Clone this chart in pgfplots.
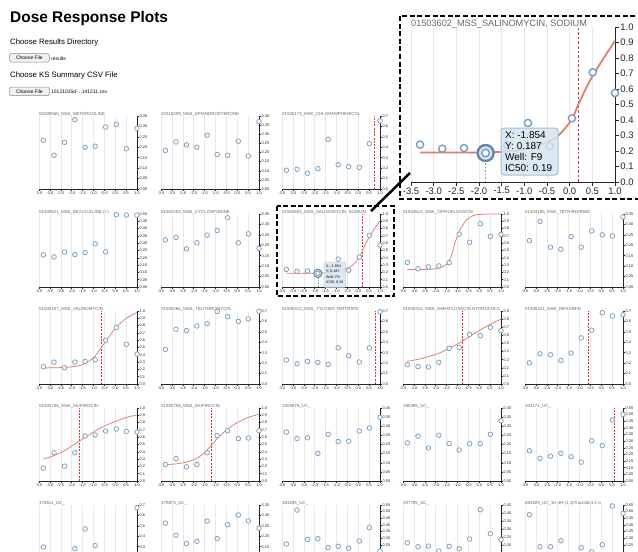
\documentclass[border=0pt]{standalone}
\usepackage{fontspec}
\setmainfont{Liberation Sans}
\usepackage{pgfplots}
\pgfplotsset{compat=1.18}
\definecolor{mk}{RGB}{118,158,196}
\definecolor{cv}{RGB}{229,124,108}
\definecolor{ic}{RGB}{235,45,45}
\definecolor{gr}{RGB}{232,232,232}
\definecolor{ttl}{RGB}{105,105,105}
\definecolor{tipf}{RGB}{214,228,240}
\definecolor{tipd}{RGB}{165,192,215}
\pgfplotsset{
 sax/.style={
  scale only axis, width=98bp, height=73bp, anchor=south west,
  xmin=-3.5, xmax=1.0, ymin=0,
  axis x line*=bottom, axis y line*=right,
  xtick={-3.5,-3,-2.5,-2,-1.5,-1,-0.5,0,0.5,1},
  xmajorgrids, major grid style={draw=gr, line width=0.5bp},
  tick align=outside, major tick length=1.8bp,
  axis line style={draw=black!85, line width=0.6bp},
  tick style={draw=black!85, line width=0.5bp},
  tick label style={font=\fontsize{3.9}{4}\selectfont, text=black!85, inner sep=0.6bp},
  /pgf/number format/assume math mode=true,
  xticklabel style={/pgf/number format/.cd, fixed, fixed zerofill, precision=1},
  yticklabel style={/pgf/number format/.cd, fixed, fixed zerofill, precision=2},
  clip=false,
 },
 pts/.style={only marks, mark=*, mark size=2.3bp, mark options={draw=mk, fill=white, line width=0.75bp}},
 crv/.style={color=cv, line width=0.75bp, smooth, no marks},
 icl/.style={draw=ic, line width=0.9bp, dash pattern=on 2bp off 1.3bp, no marks},
}
\newcommand{\SP}[8][]{%
 \begin{axis}[sax, at={(#2bp,-#3bp)}, ymax=#5, ytick distance=#6, yticklabel style={/pgf/number format/precision=#7}, #1]
 \node[anchor=base west, inner sep=0pt, yshift=0.5bp, font=\fontsize{4.4}{5}\selectfont, text=ttl] at (rel axis cs:0,1) {#4};
 #8
 \end{axis}}
\begin{document}
\begin{tikzpicture}
\useasboundingbox (0,0) rectangle (638bp,-552bp);
\clip (0,0) rectangle (638bp,-552bp);
\fill[white] (0,0) rectangle (638bp,-552bp);
% header
\node[anchor=base west, inner sep=0pt, font=\fontsize{15.5}{16}\selectfont\bfseries] at (10bp,-22.3bp) {Dose Response Plots};
\node[anchor=base west, inner sep=0pt, font=\fontsize{7.8}{8}\selectfont] at (10bp,-44bp) {Choose Results Directory};
\draw[rounded corners=1.5bp, draw=black!45, fill=black!6, line width=0.5bp] (9.5bp,-53.5bp) rectangle (49.3bp,-62bp);
\node[inner sep=0pt, font=\fontsize{5}{5}\selectfont] at (29.4bp,-57.9bp) {Choose File};
\node[anchor=base west, inner sep=0pt, font=\fontsize{5}{5}\selectfont] at (51bp,-60bp) {results};
\node[anchor=base west, inner sep=0pt, font=\fontsize{7.8}{8}\selectfont] at (10bp,-77bp) {Choose KS Summary CSV File};
\draw[rounded corners=1.5bp, draw=black!45, fill=black!6, line width=0.5bp] (9.5bp,-87bp) rectangle (49.3bp,-95.7bp);
\node[inner sep=0pt, font=\fontsize{5}{5}\selectfont] at (29.4bp,-91.5bp) {Choose File};
\node[anchor=base west, inner sep=0pt, font=\fontsize{5}{5}\selectfont] at (51bp,-93.5bp) {10121015d-...141211.csv};
% row 1
\SP{39}{189}{00300565\_MSS\_METERGOLINE}{0.3501}{0.05}{2}{
 \addplot[pts] coordinates {(-3.3,0.234) (-2.81,0.162) (-2.33,0.224) (-1.854,0.333) (-1.38,0.200) (-0.92,0.205) (-0.44,0.297) (0.05,0.310) (0.51,0.193) (1.0,0.291)};}
\SP{161}{189}{00310009\_MSS\_EPIANDROSTERONE}{0.4001}{0.05}{2}{
 \addplot[pts] coordinates {(-3.3,0.211) (-2.81,0.258) (-2.33,0.242) (-1.854,0.229) (-1.38,0.295) (-0.92,0.189) (-0.44,0.185) (0.05,0.262) (0.51,0.180) (1.0,0.369)};}
\SP{282}{189}{01500174\_MSK\_CHLORAMPHENICOL}{0.7001}{0.1}{1}{
 \addplot[icl] coordinates {(0.74,0) (0.74,0.7)};
 \addplot[pts] coordinates {(-3.3,0.180) (-2.81,0.189) (-2.33,0.151) (-1.854,0.195) (-1.38,0.476) (-0.92,0.233) (-0.44,0.214) (0.05,0.208) (0.51,0.435) (1.0,0.653)};}
% row 2
\SP{39}{287}{01500621\_MSS\_BICUCULLINE (+)}{0.5001}{0.05}{2}{
 \addplot[pts] coordinates {(-3.3,0.220) (-2.81,0.206) (-2.33,0.239) (-1.854,0.222) (-1.38,0.236) (-0.92,0.296) (-0.44,0.241) (0.05,0.495) (0.51,0.493) (1.0,0.493)};}
\SP{161}{287}{01502202\_MSK\_CYCLOSPORINE}{0.3501}{0.05}{2}{
 \addplot[pts] coordinates {(-3.3,0.226) (-2.81,0.238) (-2.33,0.183) (-1.854,0.212) (-1.38,0.249) (-0.92,0.271) (-0.44,0.332) (0.05,0.212) (0.51,0.255) (1.0,0.185)};}
\SP{282}{287}{01503602\_MSS\_SALINOMYCIN, SODIUM}{1.0001}{0.1}{1}{
 \addplot[icl] coordinates {(0.19,0) (0.19,1.0)};
 \addplot[crv] coordinates {(-3.3,0.19) (-2.5,0.19) (-2.0,0.19) (-1.5,0.195) (-1.0,0.212) (-0.5,0.258) (-0.25,0.30) (0.04,0.40) (0.19,0.50) (0.44,0.65) (0.74,0.795) (1.0,0.91)};
 \addplot[pts] coordinates {(-3.3,0.241) (-2.81,0.215) (-2.33,0.219) (-1.38,0.24) (-0.92,0.381) (-0.44,0.23) (0.05,0.411) (0.51,0.708) (1.0,0.574)};
 \addplot[mk, line width=0.6bp, dash pattern=on 0.7bp off 0.9bp] coordinates {(-1.854,0) (-1.854,0.13)};
 \addplot[only marks, mark=*, mark size=4.1bp, mark options={draw=mk!85!black, fill=mk!25, line width=1.1bp}] coordinates {(-1.854,0.187)};
 \addplot[only marks, mark=*, mark size=2.1bp, mark options={draw=mk, fill=white, line width=0.7bp}] coordinates {(-1.854,0.187)};}
\SP{403}{287}{01503614\_MSK\_CIPROFLOXACIN}{1.0001}{0.1}{1}{
 \addplot[crv] coordinates {(-3.3,0.24) (-2.5,0.24) (-2.0,0.25) (-1.75,0.27) (-1.5,0.31) (-1.35,0.38) (-1.25,0.46) (-1.12,0.60) (-1.0,0.70) (-0.89,0.78) (-0.75,0.85) (-0.59,0.92) (-0.4,0.96) (-0.14,0.99) (0.5,1.0) (1.0,1.0)};
 \addplot[pts] coordinates {(-3.3,0.338) (-2.81,0.249) (-2.33,0.276) (-1.854,0.289) (-1.38,0.333) (-0.92,0.724) (-0.44,0.613) (0.05,0.867) (0.51,0.693) (1.0,0.72)};}
\SP{525}{287}{01504185\_MSK\_TETRANDRINE}{0.3501}{0.05}{2}{
 \addplot[pts] coordinates {(-3.3,0.222) (-2.81,0.314) (-2.33,0.191) (-1.854,0.181) (-1.38,0.242) (-0.92,0.191) (-0.44,0.269) (0.05,0.25) (0.51,0.245) (1.0,0.336)};}
% row 3
\SP{39}{384}{01505107\_MSS\_VALINOMYCIN}{1.0001}{0.1}{1}{
 \addplot[icl] coordinates {(-0.64,0) (-0.64,1.0)};
 \addplot[crv] coordinates {(-3.3,0.22) (-2.5,0.225) (-2.0,0.235) (-1.5,0.265) (-1.0,0.36) (-0.64,0.50) (-0.25,0.66) (0.0,0.76) (0.5,0.90) (1.0,0.98)};
 \addplot[pts] coordinates {(-3.3,0.236) (-2.81,0.30) (-2.33,0.223) (-1.854,0.30) (-1.38,0.309) (-0.92,0.332) (-0.44,0.60) (0.05,0.773) (0.51,0.545) (1.0,0.409)};}
\SP{161}{384}{01505265\_MSS\_TELITHROMYCIN}{0.7001}{0.1}{1}{
 \addplot[pts] coordinates {(-3.3,0.331) (-2.81,0.525) (-2.33,0.512) (-1.854,0.557) (-1.38,0.58) (-0.92,0.697) (-0.44,0.645) (0.05,0.60) (0.51,0.625) (1.0,0.697)};}
\SP{282}{384}{01505312\_MSS\_TYLOSIN TARTRATE}{0.7001}{0.1}{1}{
 \addplot[icl] coordinates {(0.78,0) (0.78,0.7)};
 \addplot[pts] coordinates {(-3.3,0.230) (-2.81,0.194) (-2.33,0.217) (-1.854,0.207) (-1.38,0.188) (-0.92,0.347) (-0.44,0.271) (0.05,0.211) (0.51,0.347) (1.0,0.693)};}
\SP{403}{384}{01505314\_MSS\_SARAFLOXACIN HYDROCHLO}{0.9001}{0.1}{1}{
 \addplot[icl] coordinates {(-0.76,0) (-0.76,0.9)};
 \addplot[crv] coordinates {(-3.3,0.28) (-2.8,0.305) (-2.3,0.34) (-1.8,0.385) (-1.3,0.45) (-0.76,0.53) (-0.3,0.61) (0.2,0.69) (0.6,0.75) (1.0,0.80)};
 \addplot[pts] coordinates {(-3.3,0.238) (-2.81,0.214) (-2.33,0.21) (-1.854,0.267) (-1.38,0.44) (-0.92,0.452) (-0.44,0.612) (0.05,0.596) (0.51,0.699) (1.0,0.657)};}
\SP{525}{384}{01505321\_MSK\_RIFAXIMIN}{0.7001}{0.1}{1}{
 \addplot[icl] coordinates {(-0.59,0) (-0.59,0.7)};
 \addplot[pts] coordinates {(-3.3,0.203) (-2.81,0.290) (-2.33,0.281) (-1.854,0.226) (-1.38,0.297) (-0.92,0.442) (-0.44,0.516) (0.05,0.684) (0.51,0.652) (1.0,0.664)};}
% row 4
\SP{39}{481}{01505706\_MSK\_MUPIROCIN}{1.0001}{0.1}{1}{
 \addplot[icl] coordinates {(-1.66,0) (-1.66,1.0)};
 \addplot[crv] coordinates {(-3.3,0.30) (-2.8,0.35) (-2.3,0.42) (-1.66,0.545) (-1.3,0.61) (-0.9,0.69) (-0.45,0.76) (0.05,0.82) (0.5,0.87) (1.0,0.905)};
 \addplot[pts] coordinates {(-3.3,0.176) (-2.81,0.387) (-2.33,0.203) (-1.854,0.387) (-1.38,0.617) (-0.92,0.631) (-0.44,0.685) (0.05,0.712) (0.51,0.68) (1.0,0.671)};}
\SP{161}{481}{01505706\_MSS\_MUPIROCIN}{1.0001}{0.1}{1}{
 \addplot[icl] coordinates {(-1.19,0) (-1.19,1.0)};
 \addplot[crv] coordinates {(-3.3,0.225) (-2.8,0.235) (-2.3,0.26) (-1.8,0.32) (-1.5,0.39) (-1.19,0.49) (-0.8,0.62) (-0.4,0.72) (0.0,0.80) (0.5,0.87) (1.0,0.915)};
 \addplot[pts] coordinates {(-3.3,0.225) (-2.81,0.306) (-2.33,0.194) (-1.854,0.225) (-1.38,0.387) (-0.92,0.622) (-0.44,0.689) (0.05,0.581) (0.51,0.59) (1.0,0.689)};}
\SP{282}{481}{1005975\_UC\_}{0.4001}{0.05}{2}{
 \addplot[pts] coordinates {(-3.3,0.268) (-2.81,0.233) (-2.33,0.237) (-1.854,0.151) (-1.38,0.256) (-0.92,0.216) (-0.44,0.218) (0.05,0.274) (0.51,0.291) (1.0,0.349)};}
\SP{403}{481}{185495\_UC\_}{0.4001}{0.05}{2}{
 \addplot[pts] coordinates {(-3.3,0.209) (-2.81,0.246) (-2.33,0.181) (-1.854,0.251) (-1.38,0.205) (-0.92,0.170) (-0.44,0.204) (0.05,0.205) (0.51,0.256) (1.0,0.33)};}
\SP{525}{481}{202171\_UC\_}{0.5501}{0.05}{2}{
 \addplot[icl] coordinates {(0.59,0) (0.59,0.55)};
 \addplot[pts] coordinates {(-3.3,0.228) (-2.81,0.171) (-2.33,0.187) (-1.854,0.209) (-1.38,0.183) (-0.92,0.142) (-0.44,0.303) (0.05,0.267) (0.51,0.459) (1.0,0.502)};}
% row 5 (cut by the page edge)
\SP[xticklabels={}, ytick={0.3,0.4,0.5,0.6,0.7}]{39}{578}{378511\_UC\_}{0.7001}{0.1}{1}{
 \addplot[pts] coordinates {(-3.3,0.297) (-1.854,0.281) (-1.38,0.471) (-0.92,0.31) (1.0,0.674)};}
\SP[xticklabels={}, ytick={0.15,0.2,0.25,0.3,0.35}]{161}{578}{379873\_UC\_}{0.3501}{0.05}{2}{
 \addplot[pts] coordinates {(-3.3,0.263) (-2.81,0.205) (-2.33,0.165) (-1.854,0.176) (-1.38,0.273) (-0.92,0.189) (-0.44,0.256) (0.05,0.302) (0.51,0.274) (1.0,0.239)};}
\SP[xticklabels={}, ytick={0.25,0.3,0.35,0.4,0.45,0.5,0.55}]{282}{578}{383295\_UC\_}{0.5501}{0.05}{2}{
 \addplot[pts] coordinates {(-3.3,0.256) (-2.81,0.512) (-2.33,0.291) (-1.854,0.296) (-1.38,0.229) (-0.92,0.239) (-0.44,0.224) (0.05,0.279) (0.51,0.379) (1.0,0.203)};}
\SP[xticklabels={}, ytick={0.2,0.25,0.3,0.35,0.4,0.45}]{403}{578}{497795\_UC\_}{0.4501}{0.05}{2}{
 \addplot[pts] coordinates {(-3.3,0.217) (-2.81,0.193) (-2.33,0.197) (-1.854,0.166) (-1.38,0.195) (-0.92,0.18) (-0.44,0.24) (0.05,0.421) (0.51,0.273) (1.0,0.236)};}
\SP[xticklabels={}, ytick={0.25,0.3,0.35,0.4,0.45,0.5,0.55}]{525}{578}{694829\_UC\_1H,4H-(1,3)Triazolo(3,2-a}{0.5501}{0.05}{2}{
 \addplot[pts] coordinates {(-3.3,0.477) (-2.81,0.236) (-2.33,0.236) (-1.854,0.281) (-0.92,0.228) (-0.44,0.196) (0.05,0.251) (0.51,0.543) (1.0,0.487)};}
% small tooltip
\draw[rounded corners=1.2bp, fill=tipf, fill opacity=0.85, draw=tipd, line width=0.4bp] (324bp,-262bp) rectangle (345.5bp,-287.5bp);
\node[anchor=base west, inner sep=0pt, font=\fontsize{3.6}{4}\selectfont] at (326bp,-267bp) {X: -1.854};
\node[anchor=base west, inner sep=0pt, font=\fontsize{3.6}{4}\selectfont] at (326bp,-272.5bp) {Y: 0.187};
\node[anchor=base west, inner sep=0pt, font=\fontsize{3.6}{4}\selectfont] at (326bp,-278bp) {Well: F9};
\node[anchor=base west, inner sep=0pt, font=\fontsize{3.6}{4}\selectfont] at (326bp,-283.5bp) {IC50: 0.19};
% dashed highlight box
\draw[line width=1.6bp, dash pattern=on 5bp off 2.6bp] (277bp,-206bp) rectangle (394bp,-296bp);
% inset
\fill[white] (400bp,-16bp) rectangle (650bp,-199bp);
\begin{axis}[sax, at={(411bp,-182bp)}, width=204bp, height=155bp, ymax=1.0001, ytick distance=0.1,
  yticklabel style={/pgf/number format/precision=1},
  tick label style={font=\fontsize{9.5}{10}\selectfont, inner sep=1.2bp},
  major tick length=4bp, axis line style={line width=1bp}, tick style={line width=0.9bp},
  major grid style={draw=gr, line width=0.8bp}]
 \node[anchor=base west, inner sep=0pt, yshift=0.7bp, font=\fontsize{9.2}{10}\selectfont, text=ttl] at (rel axis cs:0,1) {01503602\_MSS\_SALINOMYCIN, SODIUM};
 \addplot[ic, line width=1.3bp, dash pattern=on 2.6bp off 2bp] coordinates {(0.20,0) (0.20,1.0)};
 \addplot[cv, line width=1.8bp, smooth] coordinates {(-3.3,0.19) (-2.5,0.19) (-2.0,0.19) (-1.5,0.195) (-1.0,0.212) (-0.5,0.258) (-0.25,0.30) (0.04,0.40) (0.19,0.50) (0.44,0.65) (0.74,0.795) (1.0,0.91)};
 \addplot[only marks, mark=*, mark size=3.6bp, mark options={draw=mk, fill=white, line width=1.4bp}] coordinates {(-3.3,0.241) (-2.81,0.215) (-2.33,0.219) (-1.38,0.24) (-0.92,0.381) (-0.44,0.23) (0.05,0.411) (0.51,0.708) (1.0,0.574)};
 \addplot[mk, line width=1.4bp, dash pattern=on 1.5bp off 2bp] coordinates {(-1.854,0) (-1.854,0.14)};
 \addplot[only marks, mark=*, mark size=8bp, mark options={draw=mk!85!black, fill=mk!25, line width=2.4bp}] coordinates {(-1.854,0.187)};
 \addplot[only marks, mark=*, mark size=3.8bp, mark options={draw=mk, fill=white, line width=1.5bp}] coordinates {(-1.854,0.187)};
\end{axis}
\draw[rounded corners=3bp, fill=tipf, fill opacity=0.85, draw=tipd, line width=1bp] (501bp,-128bp) rectangle (558bp,-175bp);
\node[anchor=base west, inner sep=0pt, font=\fontsize{10}{11}\selectfont] at (505bp,-138bp) {X: -1.854};
\node[anchor=base west, inner sep=0pt, font=\fontsize{10}{11}\selectfont] at (505bp,-149bp) {Y: 0.187};
\node[anchor=base west, inner sep=0pt, font=\fontsize{10}{11}\selectfont] at (505bp,-160bp) {Well: F9};
\node[anchor=base west, inner sep=0pt, font=\fontsize{10}{11}\selectfont] at (505bp,-171bp) {IC50: 0.19};
\draw[line width=1.6bp, dash pattern=on 5bp off 2.6bp] (400bp,-16bp) rectangle (650bp,-199bp);
\draw[line width=2.5bp, black] (371bp,-211bp) -- (410bp,-173bp);
\end{tikzpicture}
\end{document}
